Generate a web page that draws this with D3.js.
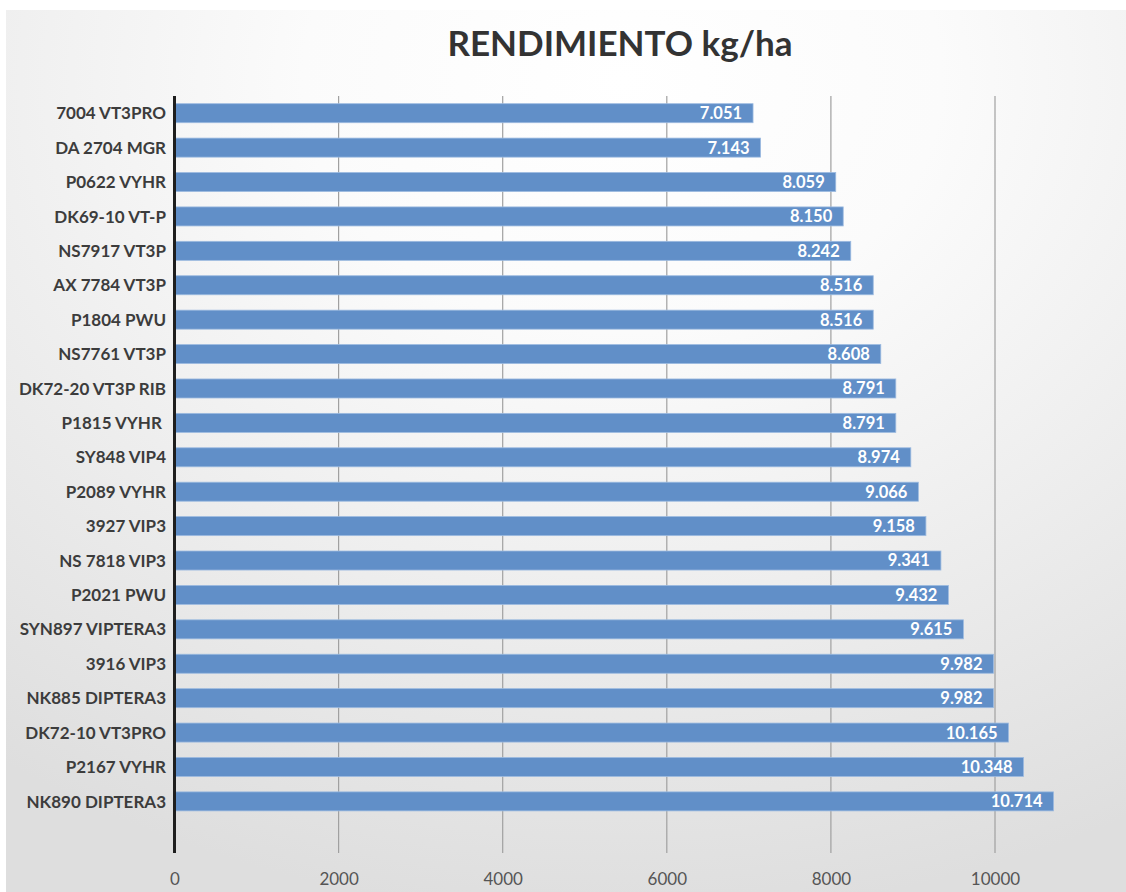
<!DOCTYPE html>
<html>
<head>
<meta charset="utf-8">
<script src="https://cdn.jsdelivr.net/npm/d3@7"></script>
<style>
  html, body { margin: 0; padding: 0; background: #ffffff; }
  svg { display: block; }
</style>
</head>
<body>
<svg id="chart" width="1126" height="892"></svg>
<script>
const titleText = "RENDIMIENTO kg/ha";
const categories = [
  "7004 VT3PRO", "DA 2704 MGR", "P0622 VYHR", "DK69-10 VT-P", "NS7917 VT3P",
  "AX 7784 VT3P", "P1804 PWU", "NS7761 VT3P", "DK72-20 VT3P RIB", "P1815 VYHR\u00a0",
  "SY848 VIP4", "P2089 VYHR", "3927 VIP3", "NS 7818 VIP3", "P2021 PWU",
  "SYN897 VIPTERA3", "3916 VIP3", "NK885 DIPTERA3", "DK72-10 VT3PRO", "P2167 VYHR",
  "NK890 DIPTERA3"
];
const values = [
  7051, 7143, 8059, 8150, 8242,
  8516, 8516, 8608, 8791, 8791,
  8974, 9066, 9158, 9341, 9432,
  9615, 9982, 9982, 10165, 10348,
  10714
];
const tickValues = [0, 2000, 4000, 6000, 8000, 10000];

const svg = d3.select("#chart");
const W = 1126, H = 892;

// background gradient
const defs = svg.append("defs");
const grad = defs.append("radialGradient")
  .attr("id", "bg").attr("cx", "55%").attr("cy", "8%").attr("r", "95%")
  .attr("fx", "55%").attr("fy", "8%");
grad.append("stop").attr("offset", "0%").attr("stop-color", "#ffffff");
grad.append("stop").attr("offset", "30%").attr("stop-color", "#fbfbfb");
grad.append("stop").attr("offset", "100%").attr("stop-color", "#dedede");
svg.append("rect").attr("x", 6).attr("y", 10).attr("width", W - 6).attr("height", H - 10)
  .attr("fill", "url(#bg)");

const plotTop = 96, plotBottom = 853;
const x = d3.scaleLinear().domain([0, 10000]).range([174.5, 995]);
const slots = categories.length + 1;
const stepPx = (plotBottom - plotTop) / slots;
const y = d3.scaleBand().domain(categories)
  .range([plotTop, plotBottom - stepPx])
  .paddingInner(0.447).paddingOuter(0.2235);

// gridlines
svg.append("g").selectAll("line").data(tickValues.filter(d => d > 0)).join("line")
  .attr("x1", d => x(d)).attr("x2", d => x(d))
  .attr("y1", plotTop).attr("y2", plotBottom)
  .attr("stroke", "#a0a0a0").attr("stroke-width", 1.2);

// bars
const fmt = d3.formatLocale({ decimal: ",", thousands: ".", grouping: [3], currency: ["", ""] }).format(",d");
svg.append("g").selectAll("rect").data(values).join("rect")
  .attr("x", x(0))
  .attr("y", (d, i) => y(categories[i]))
  .attr("width", d => x(d) - x(0))
  .attr("height", y.bandwidth())
  .attr("fill", "#618fc8")
  .attr("stroke", "#9dbbe0").attr("stroke-width", 0.8);

// value labels
svg.append("g").selectAll("text").data(values).join("text")
  .attr("x", d => x(d) - 11)
  .attr("y", (d, i) => y(categories[i]) + y.bandwidth() / 2)
  .attr("dy", "0.36em")
  .attr("text-anchor", "end")
  .attr("font-family", "Lato, 'Open Sans', sans-serif")
  .attr("font-weight", "bold")
  .attr("font-size", 16.5)
  .attr("fill", "#ffffff")
  .text(d => fmt(d));

// category labels
svg.append("g").selectAll("text").data(categories).join("text")
  .attr("x", 166)
  .attr("y", d => y(d) + y.bandwidth() / 2)
  .attr("dy", "0.36em")
  .attr("text-anchor", "end")
  .attr("font-family", "Lato, 'Open Sans', sans-serif")
  .attr("font-weight", "bold")
  .attr("font-size", 17)
  .attr("fill", "#3c3c3c")
  .text(d => d);

// y axis line
svg.append("line")
  .attr("x1", x(0)).attr("x2", x(0))
  .attr("y1", plotTop).attr("y2", plotBottom)
  .attr("stroke", "#1e1e1e").attr("stroke-width", 3);

// x axis tick labels
const xAxis = d3.axisBottom(x).tickValues(tickValues).tickSize(0).tickPadding(0).tickFormat(d3.format("d"));
const gx = svg.append("g").attr("transform", `translate(0, 873)`).call(xAxis);
gx.select(".domain").remove();
gx.selectAll("text")
  .attr("font-family", "Lato, 'Open Sans', sans-serif")
  .attr("font-size", 17)
  .attr("fill", "#555555")
  .attr("dy", "0.71em");

// title
svg.append("text")
  .attr("x", 620).attr("y", 56)
  .attr("text-anchor", "middle")
  .attr("font-family", "Lato, 'Open Sans', sans-serif")
  .attr("font-weight", "bold")
  .attr("font-size", 35)
  .attr("fill", "#333333")
  .text(titleText);
</script>
</body>
</html>
